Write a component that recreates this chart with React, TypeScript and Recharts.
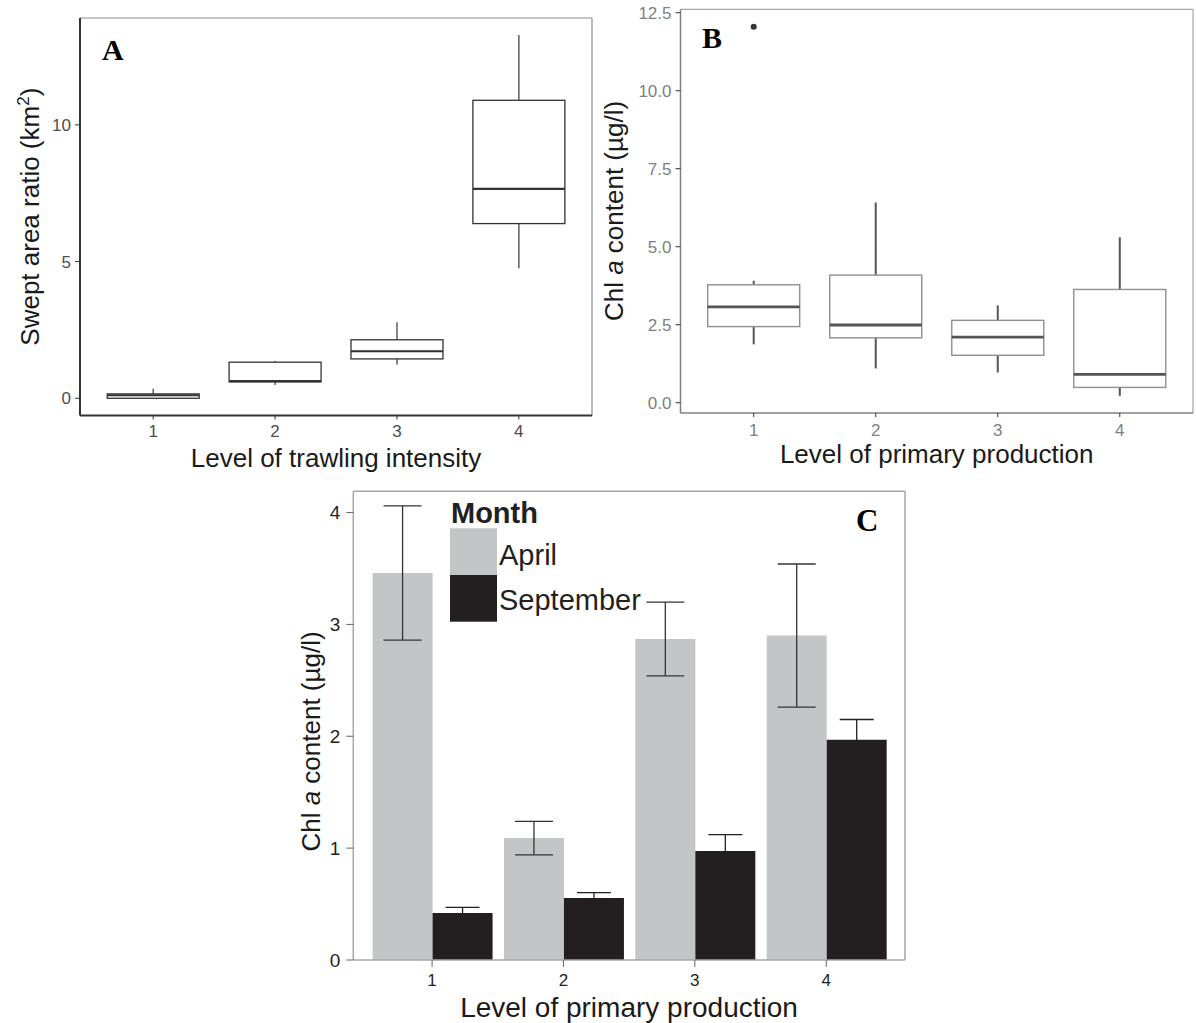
import { ComposedChart, Bar, XAxis, YAxis, ErrorBar, Legend, CartesianGrid } from "recharts";

const LEVELS = ["1", "2", "3", "4"];

// panel A: swept area ratio by trawling level (box stats)
const sweptMin = [0.0, 0.49, 1.24, 4.76];
const sweptQ1 = [0.0, 0.6, 1.44, 6.39];
const sweptMedian = [0.11, 0.63, 1.72, 7.66];
const sweptQ3 = [0.16, 1.32, 2.14, 10.9];
const sweptMax = [0.35, 1.36, 2.78, 13.29];
const sweptTicks = [0, 5, 10];

// panel B: chl a by primary production level (box stats)
const chlMin = [1.87, 1.1, 0.97, 0.22];
const chlQ1 = [2.44, 2.08, 1.52, 0.49];
const chlMedian = [3.07, 2.49, 2.1, 0.91];
const chlQ3 = [3.78, 4.09, 2.64, 3.63];
const chlMax = [3.91, 6.42, 3.12, 5.3];
const chlOutliers = [[12.05], [], [], []];
const chlTicks = [0, 2.5, 5, 7.5, 10, 12.5];

// panel C: monthly mean chl a with error bars
const aprilMean = [3.46, 1.09, 2.87, 2.9];
const aprilErr = [0.6, 0.15, 0.33, 0.64];
const septMean = [0.42, 0.555, 0.975, 1.97];
const septErr = [0.05, 0.047, 0.146, 0.18];
const monthTicks = [0, 1, 2, 3, 4];

const SANS = "'Liberation Sans', Arial, sans-serif";
const SERIF = "'Liberation Serif', 'Times New Roman', serif";

const sweptData = LEVELS.map((level, i) => ({
    level,
    min: sweptMin[i],
    q1: sweptQ1[i],
    median: sweptMedian[i],
    q3: sweptQ3[i],
    max: sweptMax[i],
    outliers: [] as number[],
}));

const chlData = LEVELS.map((level, i) => ({
    level,
    min: chlMin[i],
    q1: chlQ1[i],
    median: chlMedian[i],
    q3: chlQ3[i],
    max: chlMax[i],
    outliers: chlOutliers[i],
}));

const monthData = LEVELS.map((level, i) => ({
    level,
    april: aprilMean[i],
    aprilErr: aprilErr[i],
    september: septMean[i],
    septErr: septErr[i],
}));

interface BoxStyle {
    box: string;
    boxWidth: number;
    median: string;
    medianWidth: number;
    whisker: string;
    whiskerWidth: number;
}

// bar spans min..max; the other stats are placed on the same linear scale
function makeBoxShape(s: BoxStyle) {
    return (props: any) => {
        const { x, y, width, height, payload } = props;
        const top = Math.min(y, y + height);
        const bottom = Math.max(y, y + height);
        const span = payload.max - payload.min || 1;
        const toY = (v: number) => bottom - ((v - payload.min) / span) * (bottom - top);
        const cx = x + width / 2;
        return (
            <g>
                <line x1={cx} x2={cx} y1={toY(payload.max)} y2={toY(payload.q3)} stroke={s.whisker} strokeWidth={s.whiskerWidth} />
                <line x1={cx} x2={cx} y1={toY(payload.q1)} y2={toY(payload.min)} stroke={s.whisker} strokeWidth={s.whiskerWidth} />
                <rect
                    x={x}
                    y={toY(payload.q3)}
                    width={width}
                    height={Math.max(toY(payload.q1) - toY(payload.q3), 0.5)}
                    fill="#fff"
                    stroke={s.box}
                    strokeWidth={s.boxWidth}
                />
                <line x1={x} x2={x + width} y1={toY(payload.median)} y2={toY(payload.median)} stroke={s.median} strokeWidth={s.medianWidth} />
                {payload.outliers.map((o: number, k: number) => (
                    <circle key={k} cx={cx} cy={toY(o)} r={3} fill="#333" />
                ))}
            </g>
        );
    };
}

const sweptBox = makeBoxShape({ box: "#333", boxWidth: 1.3, median: "#333", medianWidth: 2.2, whisker: "#333", whiskerWidth: 1.2 });
const chlBox = makeBoxShape({ box: "#8f8f8f", boxWidth: 1.4, median: "#555", medianWidth: 2.8, whisker: "#555", whiskerWidth: 2 });

// top and right edges of the panel frame, taken from the plot area
const topEdge = (p: any) => [p.offset.top];
const rightEdge = (p: any) => [p.offset.left + p.offset.width];

const rotatedTitle = (x: number, y: number, children: any, fontSize = 26) => (
    <text x={x} y={y} transform={`rotate(-90, ${x}, ${y})`} textAnchor="middle" fontFamily={SANS} fontSize={fontSize} fill="#1a1a1a">
        {children}
    </text>
);

const flatTitle = (x: number, y: number, text: string, fontSize = 26) => (
    <text x={x} y={y} textAnchor="middle" fontFamily={SANS} fontSize={fontSize} fill="#1a1a1a">
        {text}
    </text>
);

const panelLetter = (x: number, y: number, letter: string, size = 30) => (
    <text x={x} y={y} fontFamily={SERIF} fontWeight="bold" fontSize={size} fill="#000">
        {letter}
    </text>
);

const chlTitle = (
    <>
        Chl <tspan fontStyle="italic">a</tspan> content (µg/l)
    </>
);

function renderMonthLegend(props: any) {
    const items = props.payload ?? [];
    return (
        <svg width={300} height={140} style={{ display: "block", overflow: "visible" }}>
            <text x={161} y={43.3} fontFamily={SANS} fontWeight="bold" fontSize={29} fill="#231f20">
                Month
            </text>
            {items.map((it: any, i: number) => (
                <g key={it.value}>
                    <rect x={160} y={48.3 + i * 46.7} width={47} height={46.7} fill={it.color} />
                    <text x={209} y={85 + i * 45} fontFamily={SANS} fontSize={29} fill="#231f20">
                        {it.value}
                    </text>
                </g>
            ))}
        </svg>
    );
}

function SweptPanel() {
    return (
        <ComposedChart width={600} height={475} data={sweptData} margin={{ top: 18, right: 8, bottom: 0, left: 0 }} barCategoryGap="12.3%">
            <CartesianGrid
                stroke="#8c8c8c"
                strokeWidth={1.2}
                horizontalCoordinatesGenerator={topEdge}
                verticalCoordinatesGenerator={rightEdge}
            />
            <XAxis
                dataKey="level"
                type="category"
                height={59.5}
                padding={{ left: 12.2, right: 12.2 }}
                tickSize={4}
                tickMargin={5}
                axisLine={{ stroke: "#333", strokeWidth: 2 }}
                tickLine={{ stroke: "#333" }}
                tick={{ fill: "#4d4d4d", fontSize: 17, fontFamily: SANS }}
                label={() => flatTitle(336, 467.3, "Level of trawling intensity")}
            />
            <YAxis
                type="number"
                domain={[-0.63, 13.91]}
                ticks={sweptTicks}
                allowDataOverflow
                width={80}
                tickSize={5}
                tickMargin={4}
                axisLine={{ stroke: "#333", strokeWidth: 2 }}
                tickLine={{ stroke: "#333" }}
                tick={{ fill: "#4d4d4d", fontSize: 17, fontFamily: SANS }}
                label={() => (
                    <g>
                        {rotatedTitle(
                            39.5,
                            216.7,
                            <>
                                Swept area ratio (km
                                <tspan dy={-10} fontSize={17}>
                                    2
                                </tspan>
                                <tspan dy={10}>)</tspan>
                            </>
                        )}
                        {panelLetter(102, 60, "A")}
                    </g>
                )}
            />
            <Bar dataKey={(d: any) => [d.min, d.max]} shape={sweptBox} isAnimationActive={false} />
        </ComposedChart>
    );
}

function ChlBoxPanel() {
    return (
        <ComposedChart width={606} height={475} data={chlData} margin={{ top: 9.3, right: 3, bottom: 0, left: 0 }} barCategoryGap="12.3%">
            <CartesianGrid
                stroke="#a6a6a6"
                strokeWidth={1.2}
                horizontalCoordinatesGenerator={topEdge}
                verticalCoordinatesGenerator={rightEdge}
            />
            <XAxis
                dataKey="level"
                type="category"
                height={62}
                padding={{ left: 12.2, right: 12.2 }}
                tickSize={4}
                tickMargin={7}
                axisLine={{ stroke: "#808080", strokeWidth: 1.5 }}
                tickLine={{ stroke: "#333" }}
                tick={{ fill: "#7f7f7f", fontSize: 17, fontFamily: SANS }}
                label={() => flatTitle(346.7, 463.3, "Level of primary production")}
            />
            <YAxis
                type="number"
                domain={[-0.33, 12.61]}
                ticks={chlTicks}
                allowDataOverflow
                width={90.5}
                tickSize={5}
                tickMargin={4}
                tickFormatter={(v: number) => v.toFixed(1)}
                axisLine={{ stroke: "#808080", strokeWidth: 1.5 }}
                tickLine={{ stroke: "#333" }}
                tick={{ fill: "#7f7f7f", fontSize: 17, fontFamily: SANS }}
                label={() => (
                    <g>
                        {rotatedTitle(33, 211, chlTitle)}
                        {panelLetter(112, 48.3, "B")}
                    </g>
                )}
            />
            <Bar dataKey={(d: any) => [d.min, d.max]} shape={chlBox} isAnimationActive={false} />
        </ComposedChart>
    );
}

function MonthPanel() {
    return (
        <ComposedChart width={640} height={543} data={monthData} margin={{ top: 11.3, right: 25, bottom: 0, left: 0 }} barCategoryGap="4.7%" barGap={0}>
            <CartesianGrid
                stroke="#a6a6a6"
                strokeWidth={1.5}
                horizontalCoordinatesGenerator={topEdge}
                verticalCoordinatesGenerator={rightEdge}
            />
            <XAxis
                dataKey="level"
                type="category"
                height={63}
                padding={{ left: 13.1, right: 13.1 }}
                tickSize={7}
                tickMargin={7}
                axisLine={{ stroke: "#a6a6a6", strokeWidth: 1.5 }}
                tickLine={{ stroke: "#666" }}
                tick={{ fill: "#231f20", fontSize: 17, fontFamily: SANS }}
                label={() => flatTitle(339, 537, "Level of primary production", 28)}
            />
            <YAxis
                type="number"
                domain={[0, 4.19]}
                ticks={monthTicks}
                allowDataOverflow
                width={63.3}
                tickSize={7}
                tickMargin={6}
                axisLine={{ stroke: "#a6a6a6", strokeWidth: 1.5 }}
                tickLine={{ stroke: "#666" }}
                tick={{ fill: "#231f20", fontSize: 19, fontFamily: SANS }}
                label={() => (
                    <g>
                        {rotatedTitle(30, 261.5, chlTitle)}
                        {panelLetter(566, 50.7, "C", 31)}
                    </g>
                )}
            />
            <Legend
                layout="horizontal"
                verticalAlign="middle"
                align="center"
                content={renderMonthLegend}
                wrapperStyle={{ left: 0, top: 0, width: 300, height: 140 }}
            />
            <Bar dataKey="april" name="April" fill="#c4c5c7" isAnimationActive={false}>
                <ErrorBar dataKey="aprilErr" width={19} stroke="#333" strokeWidth={1.3} isAnimationActive={false} />
            </Bar>
            <Bar dataKey="september" name="September" fill="#231f20" isAnimationActive={false}>
                <ErrorBar dataKey="septErr" width={17} stroke="#231f20" strokeWidth={1.3} isAnimationActive={false} />
            </Bar>
        </ComposedChart>
    );
}

export default function App() {
    return (
        <div style={{ position: "absolute", left: 0, top: 0, width: 1196, height: 1023, background: "#fff", fontFamily: SANS }}>
            <div style={{ position: "absolute", left: 0, top: 0 }}>
                <SweptPanel />
            </div>
            <div style={{ position: "absolute", left: 590, top: 0 }}>
                <ChlBoxPanel />
            </div>
            <div style={{ position: "absolute", left: 290, top: 480 }}>
                <MonthPanel />
            </div>
        </div>
    );
}
